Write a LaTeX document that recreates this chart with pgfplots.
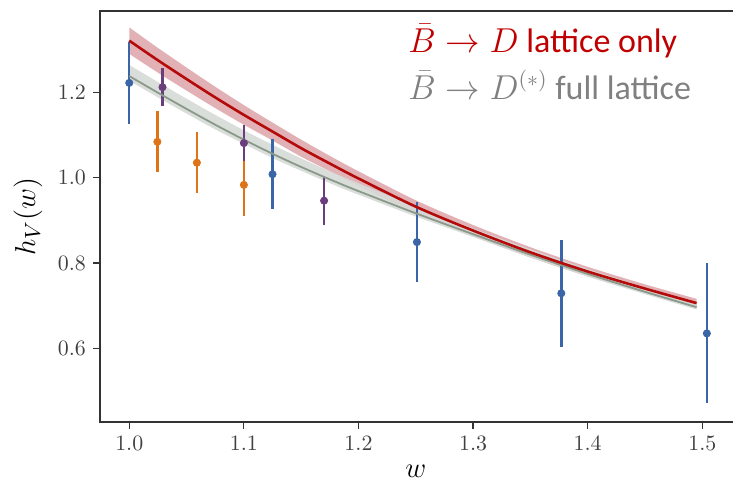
\documentclass[border=0pt]{standalone}
\usepackage{fontspec}
\setmainfont{Carlito}
\usepackage{pgfplots}
\usepackage{pgfplotstable}
\pgfplotsset{compat=1.18}
\usepgfplotslibrary{fillbetween}

\definecolor{cblue}{HTML}{3A66A8}
\definecolor{corange}{HTML}{DD7418}
\definecolor{cpurple}{HTML}{6A3D7C}
\definecolor{cred}{HTML}{B40A0A}
\definecolor{credband}{HTML}{DCA3A8}
\definecolor{cgrayband}{HTML}{D6DAD6}
\definecolor{cgrayline}{HTML}{8A998A}
\definecolor{txtred}{HTML}{C00000}
\definecolor{txtgray}{HTML}{808080}

\pgfplotstableread{
w c lo hi
1.000 1.321 1.290 1.352
1.025 1.275 1.246 1.304
1.050 1.231 1.204 1.258
1.075 1.188 1.163 1.213
1.100 1.147 1.124 1.170
1.125 1.108 1.087 1.129
1.150 1.069 1.049 1.089
1.175 1.033 1.015 1.051
1.200 0.998 0.981 1.015
1.250 0.932 0.917 0.947
1.300 0.876 0.863 0.889
1.350 0.825 0.813 0.837
1.400 0.780 0.769 0.791
1.450 0.740 0.730 0.750
1.495 0.706 0.696 0.716
}\redfit

\pgfplotstableread{
w c lo hi
1.000 1.238 1.227 1.264
1.025 1.199 1.188 1.224
1.050 1.161 1.150 1.185
1.075 1.124 1.113 1.147
1.100 1.089 1.079 1.111
1.125 1.056 1.046 1.077
1.150 1.025 1.016 1.045
1.175 0.996 0.987 1.015
1.200 0.9685 0.960 0.987
1.250 0.9165 0.909 0.933
1.300 0.8675 0.861 0.881
1.350 0.8195 0.813 0.832
1.400 0.7745 0.768 0.786
1.450 0.7325 0.727 0.743
1.495 0.6965 0.691 0.706
}\grayfit

\pgfplotstableread{
w h e
1.000 1.222 0.097
1.125 1.008 0.082
1.251 0.849 0.094
1.377 0.729 0.125
1.504 0.635 0.164
}\bluedata

\pgfplotstableread{
w h e
1.0245 1.084 0.071
1.059 1.035 0.072
1.100 0.983 0.073
}\orangedata

\pgfplotstableread{
w h e
1.029 1.212 0.045
1.100 1.081 0.043
1.170 0.946 0.056
}\purpledata

\begin{document}
\begin{tikzpicture}
\begin{axis}[
  scale only axis,
  width=318.4pt, height=205.6pt,
  xmin=0.9744, xmax=1.53, ymin=0.427, ymax=1.3905,
  axis line style={black!80, line width=0.7pt},
  tick align=outside, tick pos=left,
  major tick length=3.5pt,
  tick style={black!80, line width=0.6pt},
  xtick={1.0,1.1,1.2,1.3,1.4,1.5},
  ytick={0.6,0.8,1.0,1.2},
  xticklabel style={/pgf/number format/fixed, /pgf/number format/fixed zerofill, /pgf/number format/precision=1},
  yticklabel style={/pgf/number format/fixed, /pgf/number format/fixed zerofill, /pgf/number format/precision=1},
  tick label style={font=\fontsize{11}{13}\selectfont, text=black!75},
  xlabel={$w$}, ylabel={$h_V(w)$},
  label style={font=\fontsize{15.5}{18}\selectfont},
  xlabel style={at={(axis description cs:0.496,-0.12)}, anchor=center},
  ylabel style={at={(axis description cs:-0.113,0.5)}, anchor=center},
]
% bands
\addplot[name path=rlo, draw=none, smooth] table[x=w, y=lo] {\redfit};
\addplot[name path=rhi, draw=none, smooth] table[x=w, y=hi] {\redfit};
\addplot[fill=credband, fill opacity=0.85, draw=none] fill between[of=rlo and rhi];
\addplot[name path=glo, draw=none, smooth] table[x=w, y=lo] {\grayfit};
\addplot[name path=ghi, draw=none, smooth] table[x=w, y=hi] {\grayfit};
\addplot[fill=cgrayband, fill opacity=0.9, draw=none] fill between[of=glo and ghi];
% data points
\addplot[only marks, mark=*, mark size=1.8pt, color=cblue,
  error bars/.cd, y dir=both, y explicit, error mark=none,
  error bar style={line width=1.2pt, cblue}]
  table[x=w, y=h, y error=e] {\bluedata};
\addplot[only marks, mark=*, mark size=1.8pt, color=corange,
  error bars/.cd, y dir=both, y explicit, error mark=none,
  error bar style={line width=1.2pt, corange}]
  table[x=w, y=h, y error=e] {\orangedata};
\addplot[only marks, mark=*, mark size=1.8pt, color=cpurple,
  error bars/.cd, y dir=both, y explicit, error mark=none,
  error bar style={line width=1.2pt, cpurple}]
  table[x=w, y=h, y error=e] {\purpledata};
% central lines
\addplot[cgrayline, line width=0.9pt, smooth, no marks] table[x=w, y=c] {\grayfit};
\addplot[cred, line width=1.3pt, smooth, no marks] table[x=w, y=c] {\redfit};
% annotations
\node[anchor=base west, text=txtred, font=\fontsize{17}{20}\selectfont, inner sep=0pt]
  at (axis cs:1.2432,1.2944) {{\fontsize{16}{18}\selectfont$\bar{B}\rightarrow D$} lattice only};
\node[anchor=base west, text=txtgray, font=\fontsize{17}{20}\selectfont, inner sep=0pt]
  at (axis cs:1.2432,1.1840) {{\fontsize{16}{18}\selectfont$\bar{B}\rightarrow D^{(*)}$} full lattice};
\coordinate (bbSW) at (axis cs:0.8872,0.2634);
\coordinate (bbNE) at (axis cs:1.5268,1.4163);
\end{axis}
\pgfresetboundingbox
\useasboundingbox (bbSW) rectangle (bbNE);
\end{tikzpicture}
\end{document}
